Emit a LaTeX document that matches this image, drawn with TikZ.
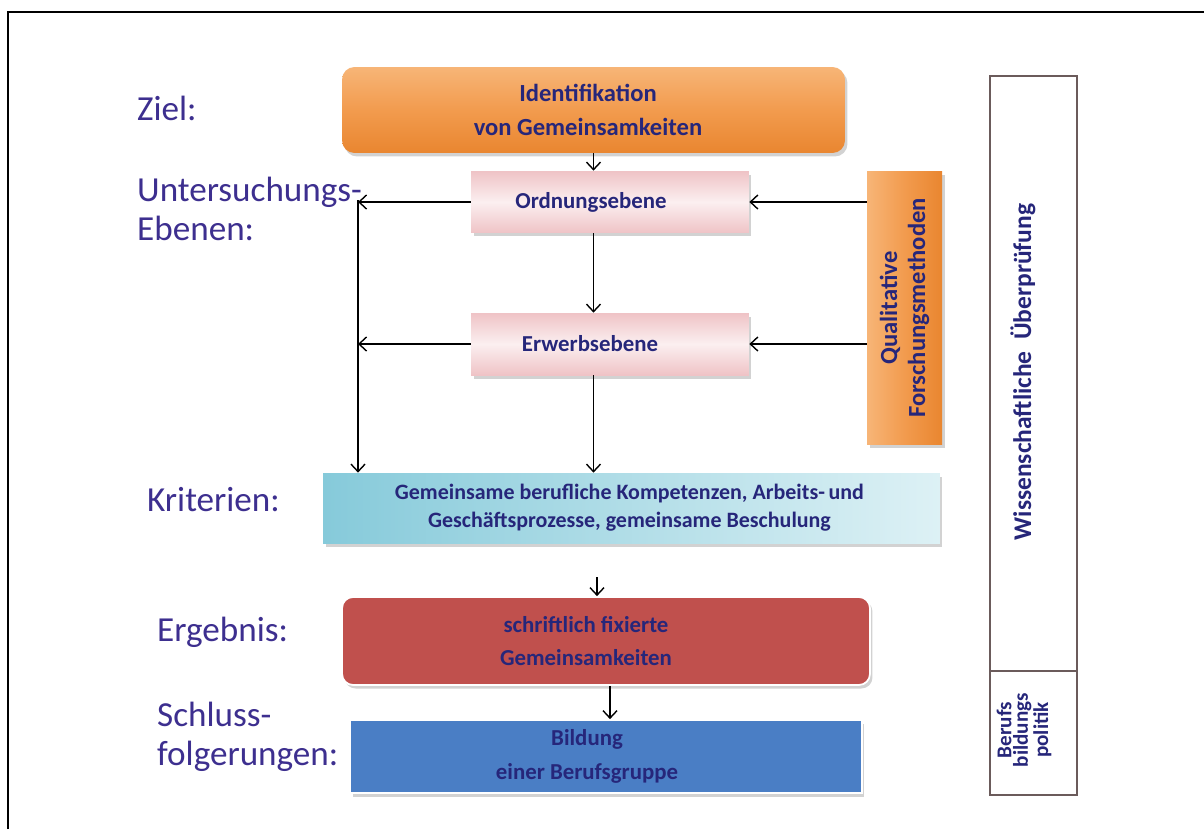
\documentclass[tikz,border=0pt]{standalone}
\usepackage{fontspec}
\setmainfont{Carlito}
\usetikzlibrary{arrows.meta,shadows}
\definecolor{lbl}{HTML}{3D2F8F}
\definecolor{btxt}{HTML}{26267A}
\definecolor{orA}{HTML}{F7B577}
\definecolor{orB}{HTML}{E98630}
\definecolor{orM}{HTML}{F29B4E}
\definecolor{pkA}{HTML}{EFC3C6}
\definecolor{pkM}{HTML}{FBEFF0}
\definecolor{cyA}{HTML}{86CADA}
\definecolor{cyB}{HTML}{DDF1F5}
\definecolor{redb}{HTML}{C0504D}
\definecolor{blueb}{HTML}{4A7EC5}
\definecolor{frameC}{HTML}{6B5B5B}
\tikzset{
  lab/.style={anchor=west,align=left,text=lbl,font=\fontsize{20}{22}\selectfont},
  shd/.style={drop shadow={opacity=0.35,shadow xshift=0.05cm,shadow yshift=-0.07cm}},
  box/.style={shd,inner sep=0pt},
  btext/.style={align=center,text=btxt,font=\bfseries\fontsize{13}{19}\selectfont,inner sep=0pt},
  arr/.style={line width=0.8pt,-{Straight Barb[length=1.5mm,width=2.8mm]}},
  outl/.style={draw=frameC,line width=1pt,inner sep=0pt},
  vtext/.style={rotate=90,align=center,text=btxt,inner sep=0pt}
}
\begin{document}
\begin{tikzpicture}[x=0.02cm,y=-0.02cm]
\useasboundingbox (0,0) rectangle (1204,829);
\fill[white] (0,0) rectangle (1204,829);
% outer frame
\draw[line width=0.9pt] (8,829) -- (8,12) -- (1204,12);

% labels
\node[lab] (lziel) at (131,108) {Ziel:};
\node[lab] (lunt) at (131,209) {Untersuchungs-\\Ebenen:};
\node[lab] (lkrit) at (141,500) {Kriterien:};
\node[lab] (lerg) at (151,632) {Ergebnis:};
\node[lab] (lsch) at (151,737) {Schluss-\\folgerungen:};

% boxes
\node[box,rounded corners=0.25cm,top color=orA,bottom color=orB,middle color=orM,
  minimum width=10.06cm,minimum height=1.72cm] (ziel) at (593.5,110) {};
\node[btext,font=\bfseries\fontsize{14}{19}\selectfont] (zielt) at (588,110)
  {Identifikation\\von Gemeinsamkeiten};
\node[box,top color=pkA,bottom color=pkA,middle color=pkM,
  minimum width=5.56cm,minimum height=1.24cm] (ord) at (610,202) {};
\node[btext] (ordt) at (591,202) {Ordnungsebene};
\node[box,top color=pkA,bottom color=pkA,middle color=pkM,
  minimum width=5.56cm,minimum height=1.24cm] (erw) at (610,344) {};
\node[btext] (erwt) at (590,344) {Erwerbsebene};
\node[box,left color=orA,right color=orB,middle color=orM,
  minimum width=5.48cm,minimum height=1.5cm,rotate=90,align=center,text=btxt,
  font=\bfseries\fontsize{14}{16}\selectfont]
  (qual) at (904.5,308) {Qualitative\\Forschungsmethoden};
\node[box,left color=cyA,right color=cyB,
  minimum width=12.34cm,minimum height=1.4cm] (krit) at (631.5,508) {};
\node[btext,font=\bfseries\fontsize{12.5}{16}\selectfont] (kritt) at (629.5,508)
  {Gemeinsame berufliche Kompetenzen, Arbeits-\,und\\Geschäftsprozesse, gemeinsame Beschulung};
\node[box,rounded corners=0.22cm,fill=redb,draw=white,line width=1pt,
  minimum width=10.56cm,minimum height=1.76cm] (erg) at (606,641) {};
\node[btext] (ergt) at (586,641) {schriftlich fixierte\\Gemeinsamkeiten};
\node[box,fill=blueb,draw=white,line width=1pt,
  minimum width=10.24cm,minimum height=1.46cm] (schl) at (606,756.5) {};
\node[btext] (schlt) at (587,756.5) {Bildung\\einer Berufsgruppe};

% right frame
\node[outl,minimum width=1.74cm,minimum height=11.9cm] (wiss) at (1033.5,373.5) {};
\node[outl,minimum width=1.74cm,minimum height=2.48cm] (beruf) at (1033.5,733) {};
\node[vtext,font=\bfseries\fontsize{14.5}{16}\selectfont] (wisst) at (1023,372)
  {Wissenschaftliche\ \ Überprüfung};
\node[vtext,font=\bfseries\fontsize{12}{9.5}\selectfont] (beruft) at (1024,730)
  {Berufs\\bildungs\\politik};

% connectors
\coordinate (L) at (358,200);
\coordinate (K) at (597,577);
\draw[arr] (ziel.south) -- (ziel.south |- ord.north);
\draw[arr] (ord.south -| ziel.south) -- (erw.north -| ziel.south);
\draw[arr] (erw.south -| ziel.south) -- (krit.north -| ziel.south);
\draw[arr] (ord.west) -- (ord.west -| L);
\draw[arr] (erw.west) -- (erw.west -| L);
\draw[arr] (L) -- (L |- krit.north);
\draw[arr] (qual.north |- ord.east) -- (ord.east);
\draw[arr] (qual.north |- erw.east) -- (erw.east);
\draw[arr] (K) -- (K |- erg.north);
\draw[arr] ([xshift=0.08cm]erg.south) -- ([xshift=0.08cm]erg.south |- schl.north);
\end{tikzpicture}
\end{document}
